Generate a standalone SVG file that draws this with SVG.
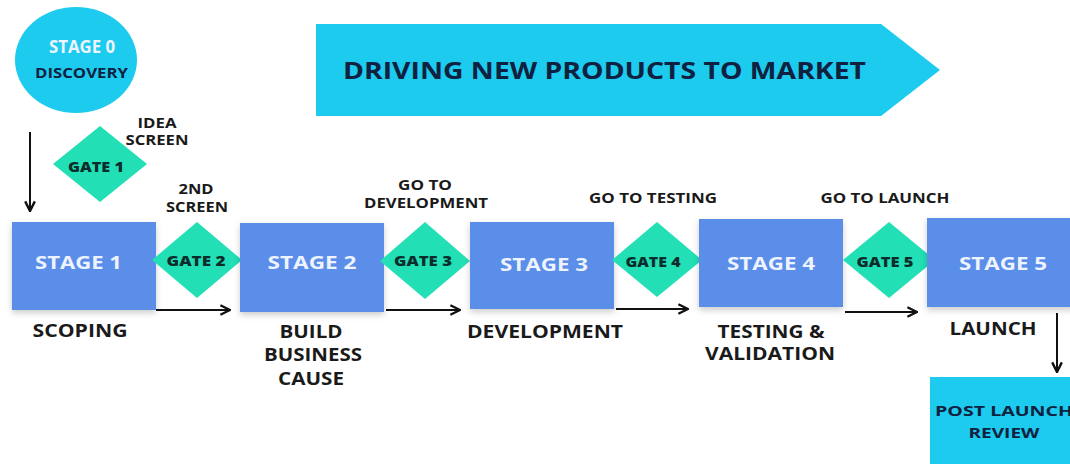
<svg xmlns="http://www.w3.org/2000/svg" width="1070" height="464" viewBox="0 0 1070 464">
  <defs>
    <style>
      .stage { fill: #5a8ee9; filter: url(#sh); }
      .gate { fill: #22dfb6; }
      .cyan { fill: #1ccbee; }
      text { font-family: "Open Sans", "Liberation Sans", sans-serif; font-weight: 700; text-anchor: middle; }
      .st { font-size: 18px; fill: #eef3ff; }
      .gt { font-size: 14px; fill: #0b2e2c; font-weight: 800; }
      .lb { font-size: 17px; fill: #1a1a1a; }
      .sm { font-size: 14px; fill: #1a1a1a; }
      .nv { fill: #0f2140; }
      .conn { stroke: #111; stroke-width: 2; fill: none; marker-end: url(#ah); }
    </style>
    <marker id="ah" viewBox="0 0 10 10" refX="9" refY="5" markerWidth="6" markerHeight="6" orient="auto">
      <path d="M1,1 L9,5 L1,9" fill="none" stroke="#111" stroke-width="2"/>
    </marker>
    <filter id="sh" x="-10%" y="-10%" width="130%" height="130%">
      <feDropShadow dx="0" dy="3" stdDeviation="3" flood-color="#000" flood-opacity="0.2"/>
    </filter>
  </defs>
  <rect width="1070" height="464" fill="#ffffff"/>

  <g id="banner">
    <polygon class="cyan" points="316,24 881,24 940,70 881,116 316,116"/>
    <text class="nv" x="604.5" y="79" font-size="24" textLength="523" lengthAdjust="spacingAndGlyphs">DRIVING NEW PRODUCTS TO MARKET</text>
  </g>

  <g id="stage0">
    <ellipse class="cyan" cx="76" cy="60" rx="61" ry="53"/>
    <text class="st" x="82" y="53" font-size="14" textLength="66" lengthAdjust="spacingAndGlyphs">STAGE 0</text>
    <text class="nv" x="81.5" y="78" font-size="14" textLength="93" lengthAdjust="spacingAndGlyphs">DISCOVERY</text>
  </g>

  <g id="gate1">
    <polygon class="gate" points="100,126 147,164 100,202 53,164"/>
    <text class="gt" x="96" y="172" textLength="56" lengthAdjust="spacingAndGlyphs">GATE 1</text>
    <text class="sm" x="157" y="128" textLength="39" lengthAdjust="spacingAndGlyphs">IDEA</text>
    <text class="sm" x="157" y="145" textLength="63" lengthAdjust="spacingAndGlyphs">SCREEN</text>
  </g>

  <g id="stage1">
    <rect class="stage" x="12" y="222" width="144" height="88"/>
    <text class="st" x="78.5" y="268.5" textLength="87" lengthAdjust="spacingAndGlyphs">STAGE 1</text>
    <text class="lb" x="80" y="337" textLength="95" lengthAdjust="spacingAndGlyphs">SCOPING</text>
  </g>

  <g id="gate2">
    <polygon class="gate" points="197,222 242,260 197,298 152,260"/>
    <text class="gt" x="196" y="266" textLength="59" lengthAdjust="spacingAndGlyphs">GATE 2</text>
    <text class="sm" x="196" y="194" textLength="35" lengthAdjust="spacingAndGlyphs">2ND</text>
    <text class="sm" x="197" y="212" textLength="62" lengthAdjust="spacingAndGlyphs">SCREEN</text>
  </g>

  <g id="stage2">
    <rect class="stage" x="240" y="223" width="144" height="89"/>
    <text class="st" x="312" y="268.5" textLength="89" lengthAdjust="spacingAndGlyphs">STAGE 2</text>
    <text class="lb" x="311" y="338" textLength="63" lengthAdjust="spacingAndGlyphs">BUILD</text>
    <text class="lb" x="313" y="361" textLength="98" lengthAdjust="spacingAndGlyphs">BUSINESS</text>
    <text class="lb" x="311" y="385" textLength="66" lengthAdjust="spacingAndGlyphs">CAUSE</text>
  </g>

  <g id="gate3">
    <polygon class="gate" points="425,222 470,261 425,299 380,261"/>
    <text class="gt" x="423" y="266" textLength="58" lengthAdjust="spacingAndGlyphs">GATE 3</text>
    <text class="sm" x="425" y="190" textLength="54" lengthAdjust="spacingAndGlyphs">GO TO</text>
    <text class="sm" x="426" y="208" textLength="124" lengthAdjust="spacingAndGlyphs">DEVELOPMENT</text>
  </g>

  <g id="stage3">
    <rect class="stage" x="470" y="222" width="144" height="87"/>
    <text class="st" x="544" y="271" textLength="88" lengthAdjust="spacingAndGlyphs">STAGE 3</text>
    <text class="lb" x="545" y="338" textLength="156" lengthAdjust="spacingAndGlyphs">DEVELOPMENT</text>
  </g>

  <g id="gate4">
    <polygon class="gate" points="657,222 702,260 657,297 612,260"/>
    <text class="gt" x="653" y="267" textLength="55" lengthAdjust="spacingAndGlyphs">GATE 4</text>
    <text class="sm" x="653" y="203" textLength="128" lengthAdjust="spacingAndGlyphs">GO TO TESTING</text>
  </g>

  <g id="stage4">
    <rect class="stage" x="699" y="219" width="144" height="88"/>
    <text class="st" x="771" y="270" textLength="88" lengthAdjust="spacingAndGlyphs">STAGE 4</text>
    <text class="lb" x="771" y="338" textLength="107" lengthAdjust="spacingAndGlyphs">TESTING &amp;</text>
    <text class="lb" x="770" y="360" textLength="130" lengthAdjust="spacingAndGlyphs">VALIDATION</text>
  </g>

  <g id="gate5">
    <polygon class="gate" points="889,222 935,260 889,298 843,260"/>
    <text class="gt" x="885" y="267" textLength="57" lengthAdjust="spacingAndGlyphs">GATE 5</text>
    <text class="sm" x="885" y="203" textLength="129" lengthAdjust="spacingAndGlyphs">GO TO LAUNCH</text>
  </g>

  <g id="stage5">
    <rect class="stage" x="927" y="218" width="150" height="89"/>
    <text class="st" x="1003" y="270" textLength="88" lengthAdjust="spacingAndGlyphs">STAGE 5</text>
    <text class="lb" x="993" y="335" textLength="87" lengthAdjust="spacingAndGlyphs">LAUNCH</text>
  </g>

  <g id="postlaunch">
    <rect class="cyan" x="930" y="377" width="145" height="92"/>
    <text class="nv" x="1004" y="416" font-size="15" textLength="138" lengthAdjust="spacingAndGlyphs">POST LAUNCH</text>
    <text class="nv" x="1004" y="438" font-size="15" textLength="71" lengthAdjust="spacingAndGlyphs">REVIEW</text>
  </g>

  <g id="connectors">
    <line class="conn" x1="30" y1="132" x2="30" y2="211"/>
    <line class="conn" x1="156" y1="310" x2="230" y2="310"/>
    <line class="conn" x1="386" y1="310" x2="460" y2="310"/>
    <line class="conn" x1="616" y1="309" x2="688" y2="309"/>
    <line class="conn" x1="845" y1="312" x2="917" y2="312"/>
    <line class="conn" x1="1057" y1="313" x2="1057" y2="372"/>
  </g>
</svg>
